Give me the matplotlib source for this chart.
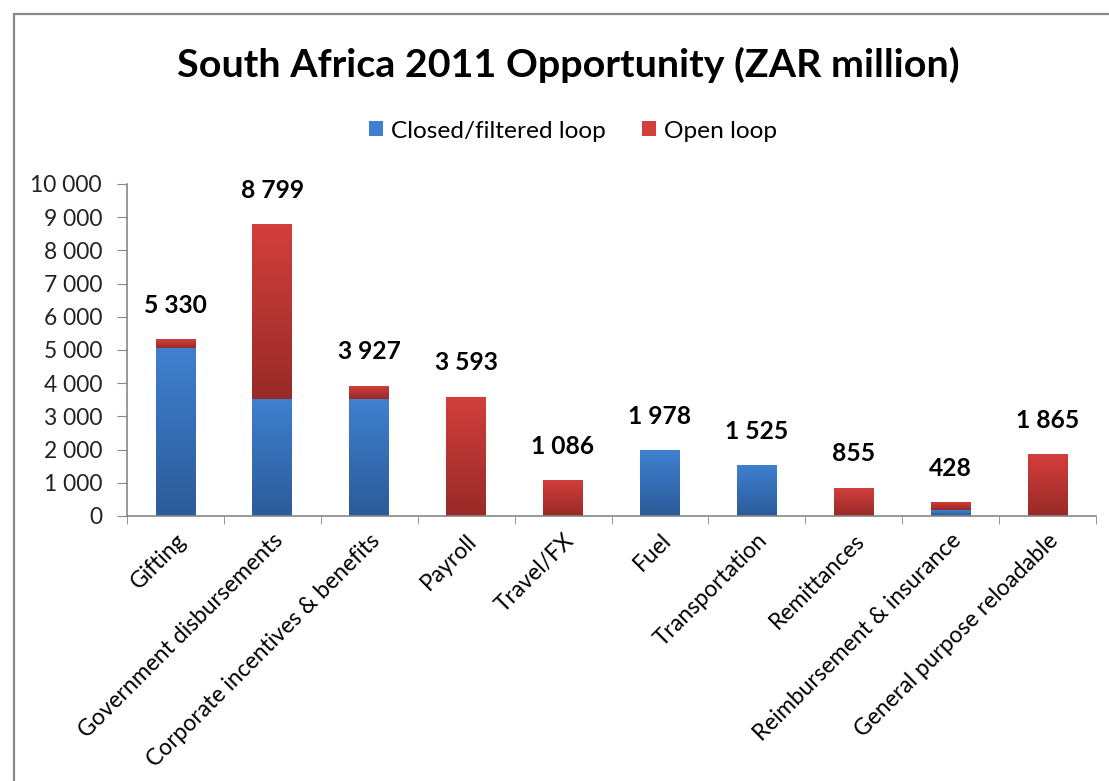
import numpy as np
import matplotlib
matplotlib.use("Agg")
import matplotlib.pyplot as plt
from matplotlib.colors import LinearSegmentedColormap
from matplotlib.patches import Rectangle
from matplotlib.ticker import FuncFormatter, FixedLocator

plt.rcParams['font.family'] = ['Lato', 'DejaVu Sans']

categories = ["Gifting", "Government disbursements", "Corporate incentives & benefits",
              "Payroll", "Travel/FX", "Fuel", "Transportation", "Remittances",
              "Reimbursement & insurance", "General purpose reloadable"]
closed_loop = [5070, 3520, 3520, 0, 0, 1978, 1525, 0, 180, 0]
open_loop = [260, 5279, 407, 3593, 1086, 0, 0, 855, 248, 1865]
totals = [5330, 8799, 3927, 3593, 1086, 1978, 1525, 855, 428, 1865]
yticks = [0, 1000, 2000, 3000, 4000, 5000, 6000, 7000, 8000, 9000, 10000]

blue_top, blue_bot = "#3f80d0", "#2b5b98"
red_top, red_bot = "#d33f3c", "#982a27"

W, H = 1109, 781
fig = plt.figure(figsize=(W / 100, H / 100), dpi=100)
fig.patches.append(Rectangle((14 / W, -0.1), 1.2, 1 - 14 / H + 0.1, transform=fig.transFigure,
                             fill=False, edgecolor="#8a8a8a", linewidth=1.6))

ax = fig.add_axes([127 / W, 1 - 516 / H, (1096 - 127) / W, (516 - 184) / H])
x = np.arange(len(categories))
width = 0.41
b1 = ax.bar(x, closed_loop, width, color=blue_top, label="Closed/filtered loop", zorder=2)
b2 = ax.bar(x, open_loop, width, bottom=closed_loop, color=red_top, label="Open loop", zorder=2)


def grad(patches, top, bot):
    cmap = LinearSegmentedColormap.from_list("g", [bot, top])
    g = np.linspace(0, 1, 256).reshape(-1, 1)
    for p in patches:
        if p.get_height() <= 0:
            continue
        px, py, pw, ph = p.get_x(), p.get_y(), p.get_width(), p.get_height()
        im = ax.imshow(g, cmap=cmap, origin="lower", extent=[px, px + pw, py, py + ph],
                       aspect="auto", zorder=2.5, interpolation="bilinear")
        im.set_clip_path(p)


grad(b1, blue_top, blue_bot)
grad(b2, red_top, red_bot)

ax.set_xlim(-0.5, len(categories) - 0.5)
ax.set_ylim(0, 10000)
ax.set_aspect("auto")

for xi, t in zip(x, totals):
    ax.annotate(f"{t:,}".replace(",", " "), (xi, t), xytext=(0, 16), textcoords="offset points",
                ha="center", va="bottom", fontsize=17.7, fontweight="bold", color="black")

ax.set_yticks(yticks)
ax.yaxis.set_major_formatter(FuncFormatter(lambda v, p: f"{int(v):,}".replace(",", " ")))
ax.tick_params(axis="y", direction="out", length=7, color="#868686", labelsize=16.4, pad=11,
               labelcolor="#222222")
ax.set_xticks(x)
ax.set_xticklabels(categories, rotation=45, ha="right", rotation_mode="anchor", fontsize=16.5)
ax.tick_params(axis="x", length=0, pad=10)
ax.xaxis.set_minor_locator(FixedLocator(np.arange(-0.5, len(categories), 1.0)))
ax.tick_params(axis="x", which="minor", direction="out", length=6, color="#868686")

for s in ["top", "right"]:
    ax.spines[s].set_visible(False)
for s in ["left", "bottom"]:
    ax.spines[s].set_color("#868686")
    ax.spines[s].set_linewidth(1.2)

fig.text(568 / W, 1 - 65 / H, "South Africa 2011 Opportunity (ZAR million)", ha="center", va="center",
         fontsize=28.4, fontweight="bold")

h1 = Rectangle((0, 0), 1, 1, facecolor=blue_top)
h2 = Rectangle((0, 0), 1, 1, facecolor=red_top)
fig.legend([h1, h2], ["Closed/filtered loop", "Open loop"], loc="center",
           bbox_to_anchor=(573 / W, 1 - 131 / H), ncol=2, frameon=False, fontsize=17.6,
           handlelength=0.57, handleheight=0.57, handletextpad=0.35, columnspacing=1.45)

fig.savefig("out.png", dpi=100)
